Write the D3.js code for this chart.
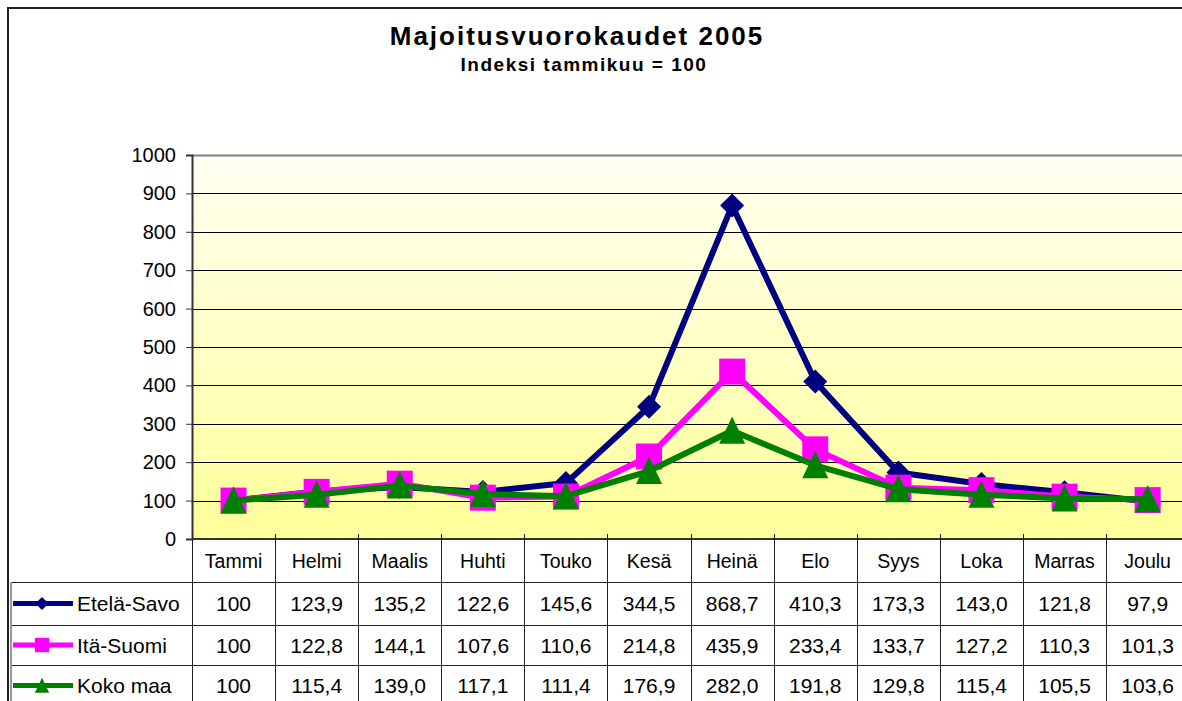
<!DOCTYPE html>
<html>
<head>
<meta charset="utf-8">
<script src="https://cdn.jsdelivr.net/npm/d3@7"></script>
<style>
  body { margin: 0; background: #fff; }
  svg { display: block; font-family: "Liberation Sans", Arial, sans-serif; }
</style>
</head>
<body>
<svg id="chart" width="1182" height="701"></svg>
<script>
// data
var months = ["Tammi", "Helmi", "Maalis", "Huhti", "Touko", "Kesä", "Heinä", "Elo", "Syys", "Loka", "Marras", "Joulu"];
var seriesNames = ["Etelä-Savo", "Itä-Suomi", "Koko maa"];
var eteläSavo = [100, 123.9, 135.2, 122.6, 145.6, 344.5, 868.7, 410.3, 173.3, 143.0, 121.8, 97.9];
var itäSuomi = [100, 122.8, 144.1, 107.6, 110.6, 214.8, 435.9, 233.4, 133.7, 127.2, 110.3, 101.3];
var kokoMaa = [100, 115.4, 139.0, 117.1, 111.4, 176.9, 282.0, 191.8, 129.8, 115.4, 105.5, 103.6];
var yTicks = [0, 100, 200, 300, 400, 500, 600, 700, 800, 900, 1000];

var series = [
  { name: seriesNames[0], values: eteläSavo, color: "#000080", marker: "diamond" },
  { name: seriesNames[1], values: itäSuomi, color: "#FF00FF", marker: "square" },
  { name: seriesNames[2], values: kokoMaa, color: "#008000", marker: "triangle" }
];

var svg = d3.select("#chart");
var W = 1182, H = 701;

var plot = { left: 192, top: 155, bottom: 539 };
var colW = 83.1;
var rows = [539, 582, 625, 665, 706];
var fs = "19.5px";
var fsRow = "21px";

var x = d3.scaleBand().domain(months).range([plot.left, plot.left + colW * months.length]);
var y = d3.scaleLinear().domain([0, 1000]).range([plot.bottom, plot.top]);

// chart border
svg.append("rect")
  .attr("x", 8).attr("y", 8)
  .attr("width", W + 20).attr("height", H + 20)
  .attr("fill", "#fff")
  .attr("stroke", "#222").attr("stroke-width", 2);

// title
svg.append("text")
  .attr("x", 577).attr("y", 45)
  .attr("text-anchor", "middle")
  .style("font-size", "26px").style("font-weight", "bold").style("letter-spacing", "2px")
  .text("Majoitusvuorokaudet 2005");
svg.append("text")
  .attr("x", 584).attr("y", 71)
  .attr("text-anchor", "middle")
  .style("font-size", "19px").style("font-weight", "bold").style("letter-spacing", "1.5px")
  .text("Indeksi tammikuu = 100");

// plot background gradient
var grad = svg.append("defs").append("linearGradient")
  .attr("id", "bg").attr("x1", 0).attr("y1", 0).attr("x2", 0).attr("y2", 1);
grad.append("stop").attr("offset", "0%").attr("stop-color", "#FFFFF2");
grad.append("stop").attr("offset", "100%").attr("stop-color", "#FFFF99");

svg.append("rect")
  .attr("x", plot.left).attr("y", plot.top)
  .attr("width", x.range()[1] - plot.left).attr("height", plot.bottom - plot.top)
  .attr("fill", "url(#bg)");

// gridlines
svg.append("g").selectAll("line")
  .data(yTicks.filter(function(d) { return d > 0 && d < 1000; }))
  .join("line")
  .attr("x1", plot.left).attr("x2", W)
  .attr("y1", function(d) { return Math.round(y(d)) + 0.5; })
  .attr("y2", function(d) { return Math.round(y(d)) + 0.5; })
  .attr("stroke", "#000").attr("stroke-width", 1);

svg.append("line")
  .attr("x1", plot.left).attr("x2", W)
  .attr("y1", plot.top + 0.5).attr("y2", plot.top + 0.5)
  .attr("stroke", "#808080").attr("stroke-width", 2);

// y axis
var yAxis = d3.axisLeft(y).tickValues(yTicks).tickFormat(d3.format("d")).tickSize(6).tickPadding(10);
svg.append("g")
  .attr("transform", "translate(" + plot.left + ",0)")
  .call(yAxis)
  .call(function(g) { g.select(".domain").attr("stroke", "#333").attr("stroke-width", 2); })
  .call(function(g) { g.selectAll(".tick line").attr("stroke", "#333"); })
  .call(function(g) { g.selectAll(".tick text").attr("fill", "#000").style("font-size", "20px").style("font-family", "'Liberation Sans', Arial, sans-serif"); });

// data table
var table = svg.append("g");
table.append("line")
  .attr("x1", plot.left).attr("x2", W)
  .attr("y1", rows[0]).attr("y2", rows[0])
  .attr("stroke", "#333").attr("stroke-width", 2);
table.selectAll("line.h")
  .data(rows.slice(1, 4))
  .join("line").attr("class", "h")
  .attr("x1", 10).attr("x2", W)
  .attr("y1", function(d) { return d + 0.5; }).attr("y2", function(d) { return d + 0.5; })
  .attr("stroke", "#222").attr("stroke-width", 1);
table.append("line")
  .attr("x1", 11).attr("x2", 11)
  .attr("y1", rows[1]).attr("y2", H)
  .attr("stroke", "#999").attr("stroke-width", 2);
table.selectAll("line.v")
  .data(months)
  .join("line").attr("class", "v")
  .attr("x1", function(d) { return Math.round(x(d)) + 0.5; })
  .attr("x2", function(d) { return Math.round(x(d)) + 0.5; })
  .attr("y1", rows[0] - 5).attr("y2", H)
  .attr("stroke", "#222").attr("stroke-width", 1);

table.selectAll("text.month")
  .data(months)
  .join("text").attr("class", "month")
  .attr("x", function(d) { return x(d) + x.bandwidth() / 2; })
  .attr("y", (rows[0] + rows[1]) / 2 + 7)
  .attr("text-anchor", "middle")
  .style("font-size", fs)
  .text(function(d) { return d; });

function fmt(v) {
  return v.toFixed(1).replace(".", ",");
}

series.forEach(function(s, si) {
  var cy = (rows[si + 1] + rows[si + 2]) / 2 + 7.5;
  table.append("g").selectAll("text")
    .data(s.values)
    .join("text")
    .attr("x", function(d, i) { return x(months[i]) + x.bandwidth() / 2; })
    .attr("y", cy)
    .attr("text-anchor", "middle")
    .style("font-size", fsRow)
    .text(function(d, i) { return i === 0 ? "100" : fmt(d); });

  // legend key
  var ky = (rows[si + 1] + rows[si + 2]) / 2;
  table.append("line")
    .attr("x1", 13).attr("x2", 73)
    .attr("y1", ky).attr("y2", ky)
    .attr("stroke", s.color).attr("stroke-width", 5);
  table.append("path")
    .attr("transform", "translate(42," + ky + ")")
    .attr("d", markerPath(s.marker, 0.55))
    .attr("fill", s.color);
  table.append("text")
    .attr("x", 77).attr("y", cy)
    .style("font-size", fsRow)
    .text(s.name);
});

function markerPath(type, k) {
  if (type === "diamond") { var a = 12 * k; return "M0," + (-a) + "L" + a + ",0L0," + a + "L" + (-a) + ",0Z"; }
  if (type === "square") { var b = 13 * k; return "M" + (-b) + "," + (-b) + "H" + b + "V" + b + "H" + (-b) + "Z"; }
  var c = 13 * k; return "M0," + (-c * 1.1) + "L" + c + "," + c + "L" + (-c) + "," + c + "Z";
}

// lines + markers
var line = d3.line()
  .x(function(d, i) { return x(months[i]) + x.bandwidth() / 2; })
  .y(function(d) { return y(d); });

series.forEach(function(s) {
  var g = svg.append("g");
  g.append("path")
    .datum(s.values)
    .attr("d", line)
    .attr("fill", "none")
    .attr("stroke", s.color)
    .attr("stroke-width", 6)
    .attr("stroke-linejoin", "round");
  g.selectAll("path.m")
    .data(s.values)
    .join("path").attr("class", "m")
    .attr("transform", function(d, i) { return "translate(" + (x(months[i]) + x.bandwidth() / 2) + "," + y(d) + ")"; })
    .attr("d", markerPath(s.marker, 1))
    .attr("fill", s.color);
});
</script>
</body>
</html>
